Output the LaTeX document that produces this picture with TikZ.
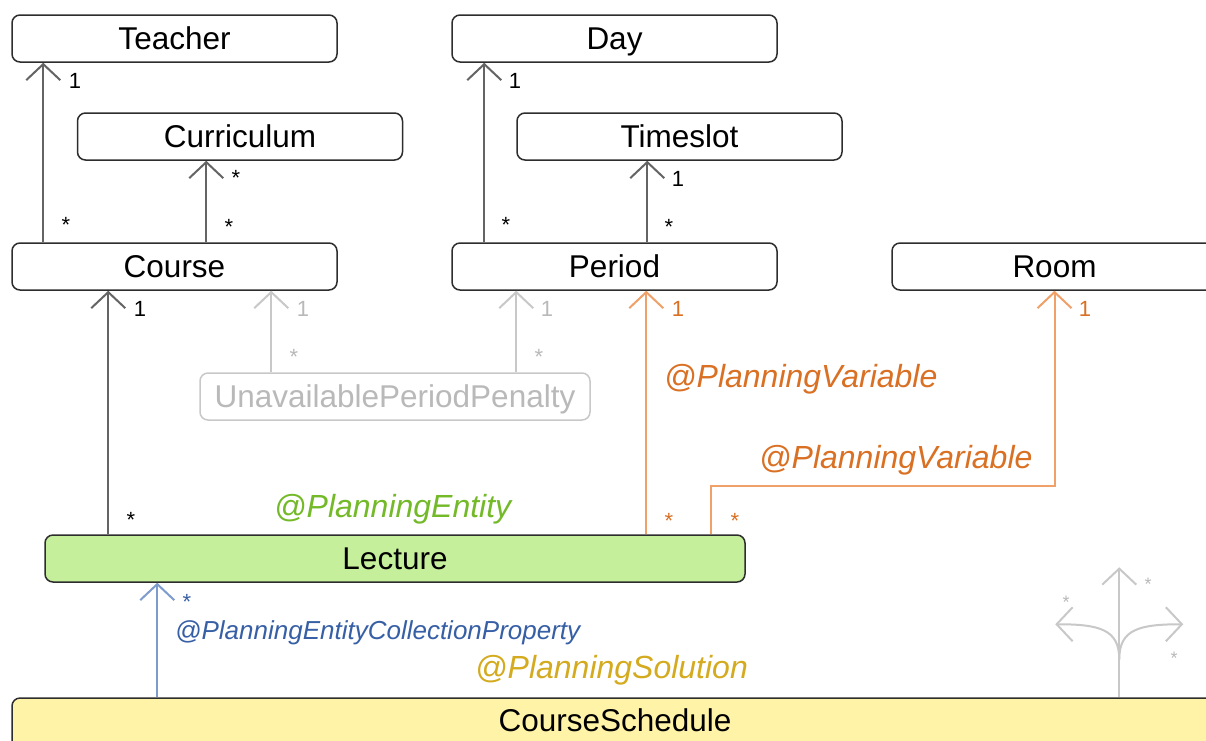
\documentclass[tikz,border=0pt]{standalone}
\usepackage{fontspec}
\setmainfont{Liberation Sans}
\usetikzlibrary{arrows.meta}
\definecolor{bordc}{RGB}{45,45,45}
\definecolor{lnk}{RGB}{100,100,100}
\definecolor{faint}{RGB}{200,200,200}
\definecolor{fainttxt}{RGB}{185,185,185}
\definecolor{orln}{RGB}{240,160,105}
\definecolor{ortx}{RGB}{217,112,35}
\definecolor{blln}{RGB}{125,155,205}
\definecolor{bltx}{RGB}{55,95,165}
\definecolor{grtx}{RGB}{115,185,40}
\definecolor{yltx}{RGB}{212,170,30}
\definecolor{lecfill}{RGB}{197,239,154}
\definecolor{csfill}{RGB}{255,243,168}
\tikzset{
  cls/.style={draw=bordc, line width=1.5pt, rounded corners=8pt, minimum width=325pt, minimum height=47pt, inner sep=0pt, text height=22pt, text depth=0pt, font=\fontsize{31.5}{34}\selectfont},
  arr/.style={draw=lnk, line width=2pt, -{Straight Barb[length=16pt,width=34pt,line width=2pt]}},
  mult/.style={inner sep=0pt, font=\fontsize{22}{24}\selectfont},
  anno/.style={inner sep=0pt, font=\fontsize{32}{34}\selectfont\itshape},
}
\begin{document}
\begin{tikzpicture}[x=1pt,y=-1pt]
\useasboundingbox (0,0) rectangle (1206,740);
\clip (0,0) rectangle (1206,740);
\fill[white] (0,0) rectangle (1206,740);

% class boxes
\node[cls] (teacher) at (174.5,38.5) {Teacher};
\node[cls] (curr) at (240,136.5) {Curriculum};
\node[cls] (course) at (174.5,266.5) {Course};
\node[cls] (day) at (614.5,38.5) {Day};
\node[cls] (slot) at (679.5,136.5) {Timeslot};
\node[cls] (period) at (614.5,266.5) {Period};
\node[cls] (room) at (1054.5,266.5) {Room};
\node[cls, draw=faint, text=fainttxt, minimum width=390pt] (upp) at (395,396.5) {UnavailablePeriodPenalty};
\node[cls, fill=lecfill, minimum width=700pt] (lecture) at (395,558.5) {Lecture};
\node[cls, fill=csfill, minimum width=1206pt, minimum height=52pt, text depth=8pt] (cs) at (615,724) {CourseSchedule};

% dark links
\draw[arr] ([xshift=32pt]course.north west) -- ([xshift=32pt]course.north west |- teacher.south);
\draw[arr] ([xshift=195pt]course.north west) -- ([xshift=195pt]course.north west |- curr.south);
\draw[arr] ([xshift=33pt]period.north west) -- ([xshift=33pt]period.north west |- day.south);
\draw[arr] ([xshift=196pt]period.north west) -- ([xshift=196pt]period.north west |- slot.south);
\draw[arr] ([xshift=64pt]lecture.north west) -- ([xshift=64pt]lecture.north west |- course.south);

% faint links
\draw[arr, draw=faint] ([xshift=72pt]upp.north west) -- ([xshift=72pt]upp.north west |- course.south);
\draw[arr, draw=faint] ([xshift=317pt]upp.north west) -- ([xshift=317pt]upp.north west |- period.south);

% orange links
\draw[arr, draw=orln] ([xshift=602pt]lecture.north west) -- ([xshift=602pt]lecture.north west |- period.south);
\draw[arr, draw=orln] ([xshift=667pt]lecture.north west) -- ([xshift=667pt]lecture.north west |- 0,486) -| (room.south);

% blue link
\draw[arr, draw=blln] ([xshift=146pt]cs.north west) -- ([xshift=146pt]cs.north west |- lecture.south);

% multiplicities
\node[mult] (m1) at (75,81) {1};
\node[mult] (m2) at (66,225) {*};
\node[mult] (m3) at (236,178) {*};
\node[mult] (m4) at (229,227) {*};
\node[mult] (m5) at (515,81) {1};
\node[mult] (m6) at (506,225) {*};
\node[mult] (m7) at (678,179) {1};
\node[mult] (m8) at (669,227) {*};
\node[mult] (m9) at (140,309) {1};
\node[mult] (m10) at (131,520) {*};
\node[mult, text=fainttxt] (m11) at (303,309) {1};
\node[mult, text=fainttxt] (m12) at (294,357) {*};
\node[mult, text=fainttxt] (m13) at (547,309) {1};
\node[mult, text=fainttxt] (m14) at (539,357) {*};
\node[mult, text=ortx] (m15) at (678,309) {1};
\node[mult, text=ortx] (m16) at (669,521) {*};
\node[mult, text=ortx] (m17) at (1085,309) {1};
\node[mult, text=ortx] (m18) at (735,521) {*};
\node[mult, text=bltx] (m19) at (187,602) {*};

% annotations
\node[anno, text=ortx, anchor=west] (pv1) at (664,379) {@PlanningVariable};
\node[anno, text=ortx, anchor=west] (pv2) at (759,460) {@PlanningVariable};
\node[anno, text=grtx, anchor=west] (pe) at (274,509) {@PlanningEntity};
\node[anno, text=bltx, anchor=west, font=\fontsize{26}{28}\selectfont\itshape] (pecp) at (175,633) {@PlanningEntityCollectionProperty};
\node[anno, text=yltx, anchor=west] (ps) at (475,670) {@PlanningSolution};

% bottom-right icon
\coordinate (ic) at ([xshift=1108pt]cs.north west);
\draw[arr, draw=faint] (ic) -- ([yshift=130pt]ic);
\draw[arr, draw=faint] ([yshift=38pt]ic) .. controls ([yshift=68pt]ic) and ([xshift=-20pt,yshift=73pt]ic) .. ([xshift=-64pt,yshift=73pt]ic);
\draw[arr, draw=faint] ([yshift=38pt]ic) .. controls ([yshift=68pt]ic) and ([xshift=20pt,yshift=73pt]ic) .. ([xshift=64pt,yshift=73pt]ic);
\node[mult, text=fainttxt, font=\fontsize{18}{20}\selectfont] (i1) at (1148,584) {*};
\node[mult, text=fainttxt, font=\fontsize{18}{20}\selectfont] (i2) at (1066,602) {*};
\node[mult, text=fainttxt, font=\fontsize{18}{20}\selectfont] (i3) at (1174,658) {*};
\end{tikzpicture}
\end{document}
